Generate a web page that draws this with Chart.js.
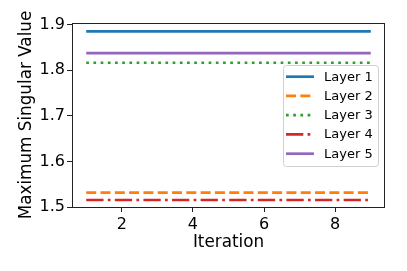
<!DOCTYPE html>
<html>
<head>
<meta charset="utf-8">
<script src="https://cdn.jsdelivr.net/npm/chart.js"></script>
<style>
  html, body { margin: 0; padding: 0; background: #fff; }
  #wrap { width: 407px; height: 271px; }
</style>
</head>
<body>
<div id="wrap"><canvas id="chart" width="407" height="271"></canvas></div>
<script>
// data
const iterations = [1, 2, 3, 4, 5, 6, 7, 8, 9];
const layer1 = [1.8855, 1.8855, 1.8855, 1.8855, 1.8855, 1.8855, 1.8855, 1.8855, 1.8855];
const layer2 = [1.5316, 1.5316, 1.5316, 1.5316, 1.5316, 1.5316, 1.5316, 1.5316, 1.5316];
const layer3 = [1.8165, 1.8165, 1.8165, 1.8165, 1.8165, 1.8165, 1.8165, 1.8165, 1.8165];
const layer4 = [1.5154, 1.5154, 1.5154, 1.5154, 1.5154, 1.5154, 1.5154, 1.5154, 1.5154];
const layer5 = [1.8378, 1.8378, 1.8378, 1.8378, 1.8378, 1.8378, 1.8378, 1.8378, 1.8378];
const seriesNames = ['Layer 1', 'Layer 2', 'Layer 3', 'Layer 4', 'Layer 5'];
const xTicks = [2, 4, 6, 8];
const yTicks = [1.5, 1.6, 1.7, 1.8, 1.9];

const LW = 2.7;
const FONT = 'DejaVu Sans';

const styles = [
  { color: '#1f77b4', dash: [] },
  { color: '#ff7f0e', dash: [10, 4.3] },
  { color: '#2ca02c', dash: [2.7, 4.5] },
  { color: '#d62728', dash: [17.3, 4.3, 2.7, 4.3] },
  { color: '#9467bd', dash: [] },
];

const allSeries = [layer1, layer2, layer3, layer4, layer5];

const datasets = allSeries.map((vals, i) => ({
  label: seriesNames[i],
  data: iterations.map((x, j) => ({ x: x, y: vals[j] })),
  borderColor: styles[i].color,
  borderDash: styles[i].dash,
  borderWidth: LW,
  pointRadius: 0,
  fill: false,
  tension: 0,
}));

// full box around the axes + legend in the top right
const framePlugin = {
  id: 'frame',
  afterDatasetsDraw(chart) {
    const { ctx, chartArea: a } = chart;
    ctx.save();
    ctx.strokeStyle = '#222';
    ctx.lineWidth = 1;
    ctx.strokeRect(Math.round(a.left) + 0.5, Math.round(a.top) + 0.5,
      Math.round(a.right - a.left) - 1, Math.round(a.bottom - a.top));

    // legend
    const bx = 283, by = 65, bw = 95, bh = 101;
    ctx.beginPath();
    ctx.roundRect(bx + 0.5, by + 0.5, bw, bh, 3);
    ctx.fillStyle = 'rgba(255,255,255,0.8)';
    ctx.fill();
    ctx.strokeStyle = '#d0d0d0';
    ctx.stroke();

    ctx.font = '13px "' + FONT + '"';
    ctx.textBaseline = 'middle';
    ctx.fillStyle = '#000';
    chart.data.datasets.forEach((ds, i) => {
      const y = 76.7 + i * 19.25;
      ctx.beginPath();
      ctx.setLineDash(ds.borderDash);
      ctx.strokeStyle = ds.borderColor;
      ctx.lineWidth = LW;
      ctx.moveTo(286, y);
      ctx.lineTo(314, y);
      ctx.stroke();
      ctx.setLineDash([]);
      ctx.fillText(ds.label, 324, y + 0.5);
    });
    ctx.restore();
  }
};

new Chart(document.getElementById('chart'), {
  type: 'line',
  data: { datasets: datasets },
  options: {
    responsive: false,
    animation: false,
    layout: { padding: { top: 23, right: 22, left: 0, bottom: 0 } },
    plugins: { legend: { display: false }, tooltip: { enabled: false } },
    scales: {
      x: {
        type: 'linear',
        min: 0.6,
        max: 9.4,
        afterFit(s) { s.height = 64; },
        afterBuildTicks(s) { s.ticks = xTicks.map(v => ({ value: v })); },
        grid: { drawOnChartArea: false, drawTicks: true, tickLength: 5, color: '#222' },
        border: { display: false },
        ticks: { font: { family: FONT, size: 16 }, color: '#000', padding: 3, maxRotation: 0 },
        title: { display: true, text: 'Iteration', font: { family: FONT, size: 16.8 }, color: '#000', padding: { top: 0, bottom: 18 } },
      },
      y: {
        min: 1.5,
        max: 1.9037,
        afterFit(s) { s.width = 72; },
        afterBuildTicks(s) { s.ticks = yTicks.map(v => ({ value: v })); },
        grid: { drawOnChartArea: false, drawTicks: true, tickLength: 5, color: '#222' },
        border: { display: false },
        ticks: { font: { family: FONT, size: 16 }, color: '#000', padding: 2,
          callback: v => v.toFixed(1) },
        title: { display: true, text: 'Maximum Singular Value', font: { family: FONT, size: 16.8 }, color: '#000', padding: { top: 17, bottom: 0 } },
      },
    },
  },
  plugins: [framePlugin],
});
</script>
</body>
</html>
